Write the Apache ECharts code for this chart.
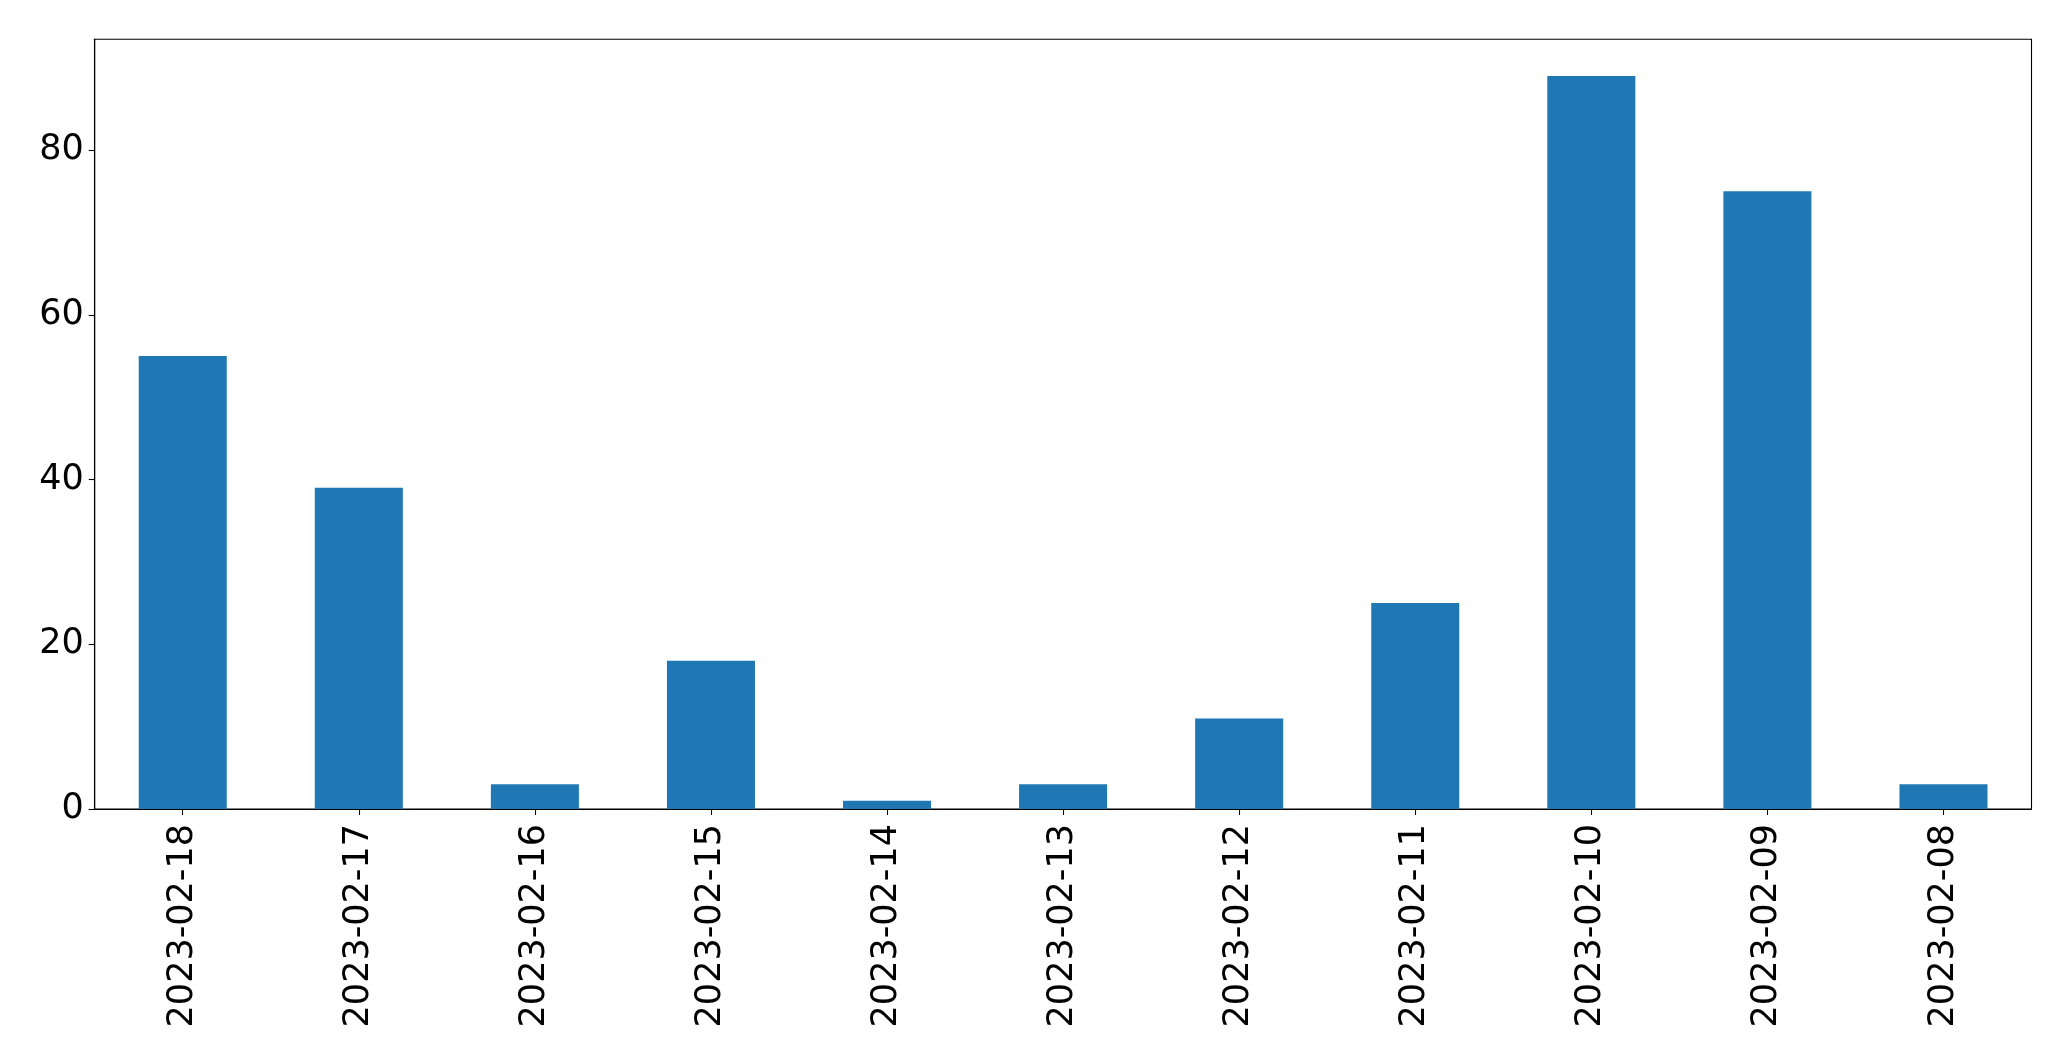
<!DOCTYPE html>
<html>
<head>
<meta charset="utf-8">
<script src="https://cdn.jsdelivr.net/npm/echarts@6/dist/echarts.min.js"></script>
<style>
html,body{margin:0;padding:0;background:#fff;}
#chart{width:2071px;height:1061px;}
</style>
</head>
<body>
<div id="chart"></div>
<script>
const categories = ["2023-02-18","2023-02-17","2023-02-16","2023-02-15","2023-02-14","2023-02-13","2023-02-12","2023-02-11","2023-02-10","2023-02-09","2023-02-08"];
const values = [55, 39, 3, 18, 1, 3, 11, 25, 89, 75, 3];
const yTicks = [0, 20, 40, 60, 80];

const chart = echarts.init(document.getElementById('chart'), null, {renderer: 'canvas'});
const fontFamily = 'DejaVu Sans';
chart.setOption({
  animation: false,
  backgroundColor: '#ffffff',
  grid: {
    left: 94.7, right: 39.5, top: 39.3, bottom: 252,
    show: true, borderColor: '#000', borderWidth: 1.1, backgroundColor: 'transparent'
  },
  xAxis: {
    type: 'category',
    data: categories,
    boundaryGap: true,
    axisLine: {show: true, lineStyle: {color: '#000', width: 1.1}},
    axisTick: {show: true, alignWithLabel: true, length: 6, lineStyle: {color: '#000', width: 1.1}},
    axisLabel: {rotate: 90, margin: 15, fontSize: 35, color: '#000', fontFamily: fontFamily, interval: 0},
    splitLine: {show: false}
  },
  yAxis: {
    type: 'value',
    min: 0,
    max: 93.45,
    interval: 20,
    axisLine: {show: true, lineStyle: {color: '#000', width: 1.1}},
    axisTick: {show: true, length: 6, lineStyle: {color: '#000', width: 1.1}},
    axisLabel: {
      margin: 11, fontSize: 35, color: '#000', fontFamily: fontFamily,
      showMaxLabel: false,
      formatter: function (v) { return yTicks.indexOf(v) >= 0 ? String(v) : ''; }
    },
    splitLine: {show: false}
  },
  series: [{
    type: 'bar',
    data: values,
    barWidth: '50%',
    itemStyle: {color: '#1f77b4'}
  }]
});
</script>
</body>
</html>
